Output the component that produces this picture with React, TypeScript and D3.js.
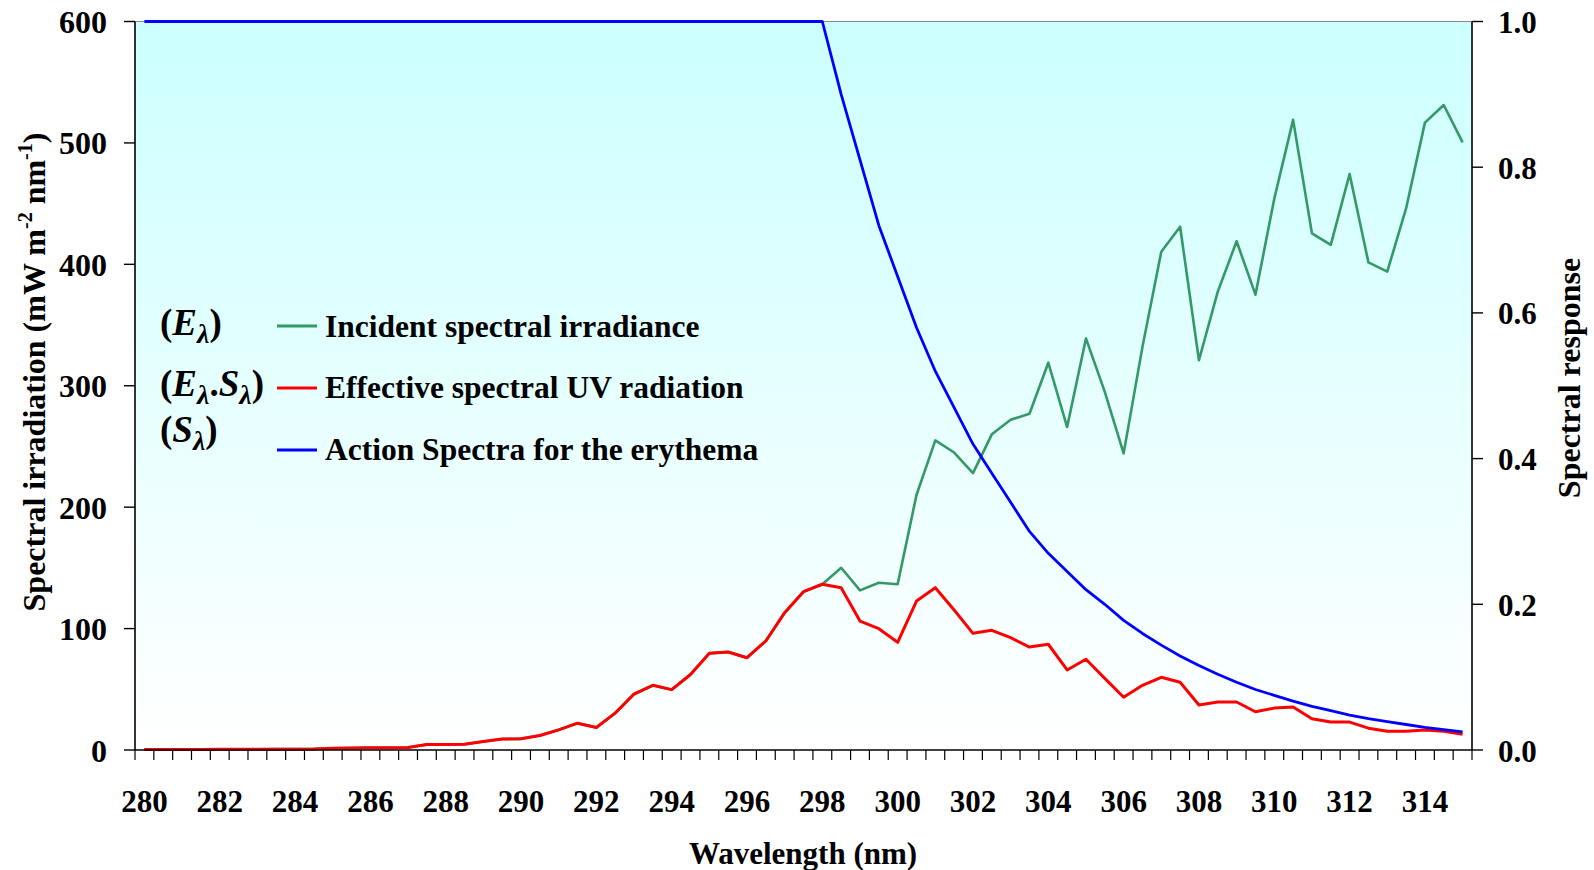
import React from 'react';
import * as d3 from 'd3';

const wavelengths = [
  280, 280.5, 281, 281.5, 282, 282.5, 283, 283.5, 284, 284.5,
  285, 285.5, 286, 286.5, 287, 287.5, 288, 288.5, 289, 289.5,
  290, 290.5, 291, 291.5, 292, 292.5, 293, 293.5, 294, 294.5,
  295, 295.5, 296, 296.5, 297, 297.5, 298, 298.5, 299, 299.5,
  300, 300.5, 301, 301.5, 302, 302.5, 303, 303.5, 304, 304.5,
  305, 305.5, 306, 306.5, 307, 307.5, 308, 308.5, 309, 309.5,
  310, 310.5, 311, 311.5, 312, 312.5, 313, 313.5, 314, 314.5,
  315,
];

// Incident spectral irradiance (E λ), mW m-2 nm-1
const incident = [
  0.5, 0.5, 0.5, 0.5, 0.6, 0.6, 0.6, 0.7, 0.7, 0.8,
  1.5, 1.7, 1.8, 1.9, 2.0, 4.5, 4.6, 4.7, 7.0, 9.1,
  9.2, 11.9, 16.6, 22.1, 18.5, 30.4, 46.1, 53.3, 49.7, 62.2,
  79.6, 80.7, 76.0, 89.8, 113.1, 130.4, 136.5, 150.1, 131.5, 137.8,
  136.5, 210, 255, 245, 228, 260, 272, 277, 319, 266,
  339, 295, 244.3, 332, 410.4, 431, 321, 377.5, 419, 375,
  454, 519, 425.5, 416, 474.4, 401.6, 394, 446, 516.7, 531.2,
  500.5,
];

// Effective spectral UV radiation (E λ . S λ)
const effective = [
  0.5, 0.5, 0.5, 0.5, 0.6, 0.6, 0.6, 0.7, 0.7, 0.8,
  1.5, 1.7, 1.8, 1.9, 2.0, 4.5, 4.6, 4.7, 7.0, 9.1,
  9.2, 11.9, 16.6, 22.1, 18.5, 30.4, 46.1, 53.3, 49.7, 62.2,
  79.6, 80.7, 76.0, 89.8, 113.1, 130.4, 136.5, 133.7, 106.2, 99.9,
  88.7, 122.7, 133.7, 115.3, 96.1, 98.6, 92.5, 84.8, 87.1, 65.9,
  74.7, 59.0, 43.4, 53.3, 59.9, 55.8, 37.1, 39.5, 39.5, 31.5,
  34.5, 35.5, 25.8, 23.0, 23.0, 18.0, 15.5, 15.5, 16.5, 15.5,
  13.0,
];

// Action spectrum for the erythema (S λ)
const action = [
  1, 1, 1, 1, 1, 1, 1, 1, 1, 1,
  1, 1, 1, 1, 1, 1, 1, 1, 1, 1,
  1, 1, 1, 1, 1, 1, 1, 1, 1, 1,
  1, 1, 1, 1, 1, 1, 1, 0.9, 0.81, 0.72,
  0.65, 0.58, 0.52, 0.47, 0.42, 0.38, 0.34, 0.3, 0.27, 0.245,
  0.22, 0.2, 0.178, 0.16, 0.144, 0.129, 0.116, 0.104, 0.093, 0.083,
  0.075, 0.067, 0.06, 0.054, 0.048, 0.043, 0.039, 0.035, 0.031, 0.028,
  0.025,
];

const xTickLabels = [280, 282, 284, 286, 288, 290, 292, 294, 296, 298, 300, 302, 304, 306, 308, 310, 312, 314];
const leftTicks = [0, 100, 200, 300, 400, 500, 600];
const rightTicks = [0, 0.2, 0.4, 0.6, 0.8, 1.0];

const FONT = '"Liberation Serif", "Times New Roman", serif';
const GREEN = '#339966';
const RED = '#FF0000';
const BLUE = '#0000FF';

export default function App() {
  const W = 1594, H = 870;
  const left = 135, right = 1472, top = 21.5, bottom = 750;

  const x = d3.scalePoint<string>()
    .domain(wavelengths.map(String))
    .range([left, right])
    .padding(0.5);
  const step = x.step();
  const yL = d3.scaleLinear().domain([0, 600]).range([bottom, top]);
  const yR = d3.scaleLinear().domain([0, 1]).range([bottom, top]);

  const lineL = d3.line<number>()
    .x((_, i) => x(String(wavelengths[i]))!)
    .y((d) => yL(d));
  const lineR = d3.line<number>()
    .x((_, i) => x(String(wavelengths[i]))!)
    .y((d) => yR(d));

  const boundaries = wavelengths.map((w) => x(String(w))! - step / 2);
  boundaries.push(x(String(wavelengths[wavelengths.length - 1]))! + step / 2);

  const legend = [
    { label: 'Incident spectral irradiance', color: GREEN, y: 326, ty: 337 },
    { label: 'Effective spectral UV radiation', color: RED, y: 388, ty: 398 },
    { label: 'Action Spectra for the erythema', color: BLUE, y: 450, ty: 460 },
  ];

  return (
    <svg width={W} height={H} style={{ position: 'absolute', left: 0, top: 0, background: '#fff' }} fontFamily={FONT}>
      <defs>
        <linearGradient id="bg" x1="0" y1="0" x2="0" y2="1">
          <stop offset="0" stopColor="#CCFFFF" />
          <stop offset="1" stopColor="#FFFFFF" />
        </linearGradient>
      </defs>
      <rect x={left} y={top} width={right - left} height={bottom - top} fill="url(#bg)" />
      <line x1={left} x2={right} y1={top} y2={top} stroke="#888" strokeWidth={1.2} />

      {/* series */}
      <path d={lineL(incident)!} fill="none" stroke={GREEN} strokeWidth={2.6} strokeLinejoin="round" />
      <path d={lineL(effective)!} fill="none" stroke={RED} strokeWidth={3} strokeLinejoin="round" />
      <path d={lineR(action)!} fill="none" stroke={BLUE} strokeWidth={2.8} strokeLinejoin="round" />

      {/* axes lines */}
      <line x1={left} x2={left} y1={top} y2={bottom} stroke="#000" strokeWidth={1.6} />
      <line x1={right} x2={right} y1={top} y2={bottom} stroke="#000" strokeWidth={1.6} />
      <line x1={left} x2={right} y1={bottom} y2={bottom} stroke="#000" strokeWidth={1.6} />

      {/* x ticks */}
      {boundaries.map((bx, i) => (
        <line key={'xt' + i} x1={bx} x2={bx} y1={bottom} y2={bottom + 10} stroke="#000" strokeWidth={1.2} />
      ))}
      {xTickLabels.map((v) => (
        <text key={'xl' + v} x={x(String(v))} y={812} textAnchor="middle" fontSize={31} fontWeight="bold">{v}</text>
      ))}

      {/* left ticks */}
      {leftTicks.map((v) => (
        <g key={'yl' + v}>
          <line x1={left - 11} x2={left} y1={yL(v)} y2={yL(v)} stroke="#000" strokeWidth={1.4} />
          <text x={107} y={yL(v) + 11.5} textAnchor="end" fontSize={32} fontWeight="bold">{v}</text>
        </g>
      ))}

      {/* right ticks */}
      {rightTicks.map((v) => (
        <g key={'yr' + v}>
          <line x1={right} x2={right + 11} y1={yR(v)} y2={yR(v)} stroke="#000" strokeWidth={1.4} />
          <text x={1498} y={yR(v) + 11.5} textAnchor="start" fontSize={31} fontWeight="bold">{v.toFixed(1)}</text>
        </g>
      ))}

      {/* axis titles */}
      <text x={803} y={864} textAnchor="middle" fontSize={31} fontWeight="bold">Wavelength (nm)</text>
      <text transform="translate(45,372) rotate(-90)" textAnchor="middle" fontSize={32} fontWeight="bold">
        Spectral irradiation (mW m<tspan fontSize={20} dy={-13}>-2</tspan><tspan dy={13}> nm</tspan><tspan fontSize={20} dy={-13}>-1</tspan><tspan dy={13}>)</tspan>
      </text>
      <text transform="translate(1580,378) rotate(-90)" textAnchor="middle" fontSize={32} fontWeight="bold">Spectral response</text>

      {/* legend */}
      {legend.map((l) => (
        <g key={l.label}>
          <line x1={277} x2={317} y1={l.y} y2={l.y} stroke={l.color} strokeWidth={3} />
          <text x={325} y={l.ty} fontSize={31.5} fontWeight="bold">{l.label}</text>
        </g>
      ))}

      {/* symbol labels */}
      <text x={160} y={335} fontSize={37} fontWeight="bold">
        (<tspan fontStyle="italic">E</tspan><tspan fontStyle="italic" fontSize={28} dy={8}>λ</tspan><tspan dy={-8}>)</tspan>
      </text>
      <text x={160} y={396} fontSize={37} fontWeight="bold">
        (<tspan fontStyle="italic">E</tspan><tspan fontStyle="italic" fontSize={28} dy={8}>λ</tspan><tspan dy={-8}>.</tspan><tspan fontStyle="italic">S</tspan><tspan fontStyle="italic" fontSize={28} dy={8}>λ</tspan><tspan dy={-8}>)</tspan>
      </text>
      <text x={160} y={442} fontSize={37} fontWeight="bold">
        (<tspan fontStyle="italic">S</tspan><tspan fontStyle="italic" fontSize={28} dy={8}>λ</tspan><tspan dy={-8}>)</tspan>
      </text>
    </svg>
  );
}
